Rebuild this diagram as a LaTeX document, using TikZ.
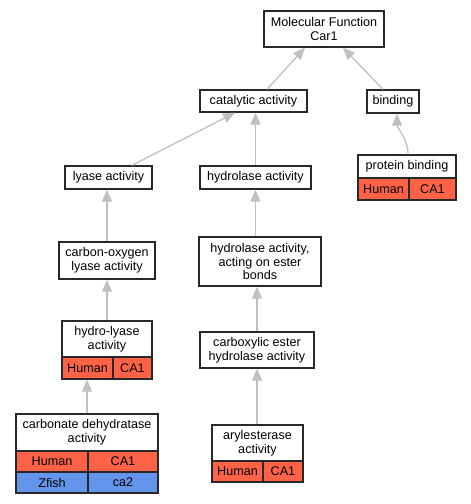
\documentclass[tikz,border=0pt]{standalone}
\usepackage{fontspec}
\setmainfont{Liberation Sans}
\usetikzlibrary{arrows.meta,calc}
\definecolor{edgegray}{RGB}{192,192,192}
\definecolor{boxline}{RGB}{40,40,40}
\definecolor{humanred}{RGB}{255,99,71}
\definecolor{fishblue}{RGB}{100,149,237}
\begin{document}
\begin{tikzpicture}[x=1pt,y=-1pt,
  box/.style={draw=boxline,line width=1.3pt,fill=white,inner sep=0pt,align=center,
     font=\fontsize{12.6}{13.6}\selectfont},
  hum/.style={box,fill=humanred},
  fish/.style={box,fill=fishblue},
  edge/.style={draw=edgegray,line width=1.3pt,-{Triangle[width=10pt,length=12pt]}}]
\useasboundingbox (0,0) rectangle (471,504);
\fill[white] (0,0) rectangle (471,504);
% nodes
\node[box,minimum width=120pt,minimum height=36pt] (mf) at (324,29) {Molecular Function\\Car1};
\node[box,minimum width=107pt,minimum height=22pt] (cat) at (253.5,101) {catalytic activity};
\node[box,minimum width=52pt,minimum height=23pt] (bind) at (393,101.5) {binding};
\node[box,minimum width=98pt,minimum height=23pt] (pb) at (407,166.5) {protein binding};
\node[hum,minimum width=51pt,minimum height=22pt] (pbh) at (383.5,189) {Human};
\node[hum,minimum width=47pt,minimum height=22pt] (pbc) at (432.5,189) {CA1};
\node[box,minimum width=87pt,minimum height=23pt] (ly) at (108.5,177.5) {lyase activity};
\node[box,minimum width=111pt,minimum height=23pt] (hyd) at (255.5,177.5) {hydrolase activity};
\node[box,minimum width=96pt,minimum height=37pt] (co) at (107,260.5) {carbon-oxygen\\lyase activity};
\node[box,minimum width=122pt,minimum height=49pt] (hest) at (260,261.5) {hydrolase activity,\\acting on ester\\bonds};
\node[box,minimum width=90pt,minimum height=36pt] (hl) at (107,339) {hydro-lyase\\activity};
\node[hum,minimum width=51pt,minimum height=22pt] (hlh) at (87.5,368) {Human};
\node[hum,minimum width=39pt,minimum height=22pt] (hlc) at (132.5,368) {CA1};
\node[box,minimum width=114pt,minimum height=36pt] (ce) at (257,350) {carboxylic ester\\hydrolase activity};
\node[box,minimum width=142pt,minimum height=37pt] (cd) at (87,432.5) {carbonate dehydratase\\activity};
\node[hum,minimum width=72pt,minimum height=21pt] (cdh) at (52,461.5) {Human};
\node[hum,minimum width=70pt,minimum height=21pt] (cdc) at (123,461.5) {CA1};
\node[fish,minimum width=72pt,minimum height=21pt] (cdz) at (52,482.5) {Zfish};
\node[fish,minimum width=70pt,minimum height=21pt] (cdf) at (123,482.5) {ca2};
\node[box,minimum width=91pt,minimum height=36pt] (ar) at (257.5,443) {arylesterase\\activity};
\node[hum,minimum width=51pt,minimum height=21pt] (arh) at (237.5,471.5) {Human};
\node[hum,minimum width=40pt,minimum height=21pt] (arc) at (283,471.5) {CA1};
% edges
\draw[edge] ([xshift=13.5pt]cat.north) -- ([xshift=-19pt]mf.south);
\draw[edge] ([xshift=-10pt]bind.north) -- ([xshift=19pt]mf.south);
\draw[edge] ([xshift=23.5pt]ly.north) -- ([xshift=-18.5pt]cat.south);
\draw[edge] (hyd.north) -- (hyd.north |- cat.south);
\draw[edge] ([xshift=1pt]pb.north) .. controls ([xshift=1pt,yshift=16pt]pb.north) and ([xshift=4pt,yshift=-14pt]bind.south) .. ([xshift=4pt]bind.south);
\draw[edge] (co.north) -- (co.north |- ly.south);
\draw[edge] (hl.north) -- (hl.north |- co.south);
\draw[edge] (cd.north) -- (cd.north |- hlh.south);
\draw[edge] (hest.north -| hyd.north) -- (hyd.south);
\draw[edge] (ce.north) -- (ce.north |- hest.south);
\draw[edge] (ar.north -| ce.north) -- (ce.south);
\end{tikzpicture}
\end{document}
